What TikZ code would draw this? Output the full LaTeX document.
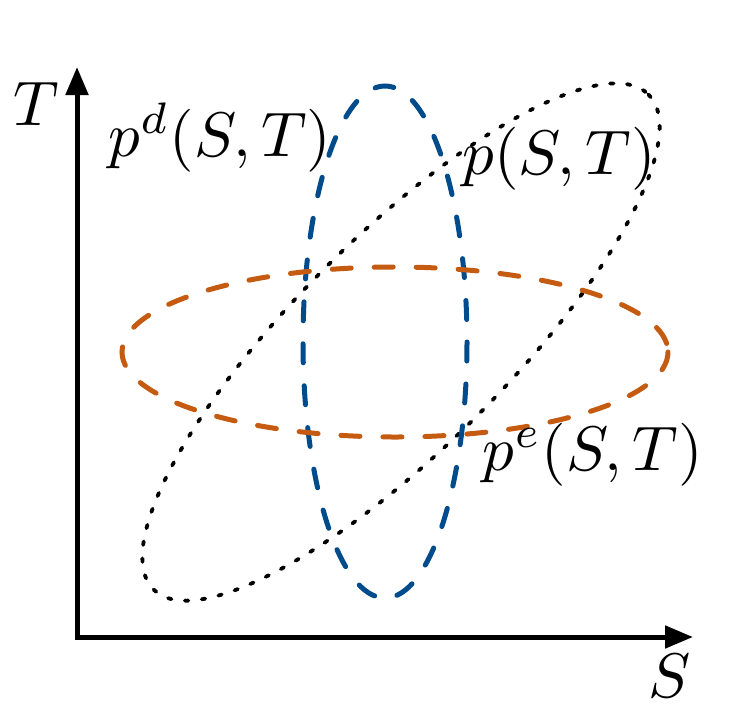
\documentclass[tikz,border=0pt]{standalone}
\usetikzlibrary{arrows.meta}
\definecolor{dblue}{RGB}{0,75,140}
\definecolor{dorange}{RGB}{197,90,17}
\begin{document}
\begin{tikzpicture}[x=1pt,y=-1pt,
  axis/.style={line width=5pt,line join=miter,{Triangle[length=28pt,width=22pt]}-{Triangle[length=28pt,width=22pt]}},
  lbl/.style={scale=6.3,inner sep=0pt,anchor=base},
  dashedell/.style={line width=5pt,line cap=round,dash pattern=on 19pt off 23pt},
  dottedell/.style={line width=3.8pt,line cap=round,dash pattern=on 3.5pt off 13.5pt}]
\useasboundingbox (0,0) rectangle (747,718);
\coordinate (O) at (77,637);
\coordinate (Ttip) at (77,67);
\coordinate (Stip) at (693,637);
\draw[axis] (Ttip) -- (O) -- (Stip);
\coordinate (cp) at (401,342);
\coordinate (cd) at (385,342);
\coordinate (ce) at (395,352);
\draw[dottedell, rotate around={45:(cp)}] (cp) ellipse [x radius=350, y radius=106];
\draw[dashedell, dblue] (cd) ellipse [x radius=82, y radius=256];
\draw[dashedell, dorange] (ce) ellipse [x radius=273, y radius=85];
\node[lbl] (T) at (36,125) {$T$};
\node[lbl] (pd) at (220,156) {$p^d(S,T)$};
\node[lbl] (p) at (559,174) {$p(S,T)$};
\node[lbl] (pe) at (593,470) {$p^e(S,T)$};
\node[lbl] (S) at (670,697) {$S$};
\end{tikzpicture}
\end{document}
